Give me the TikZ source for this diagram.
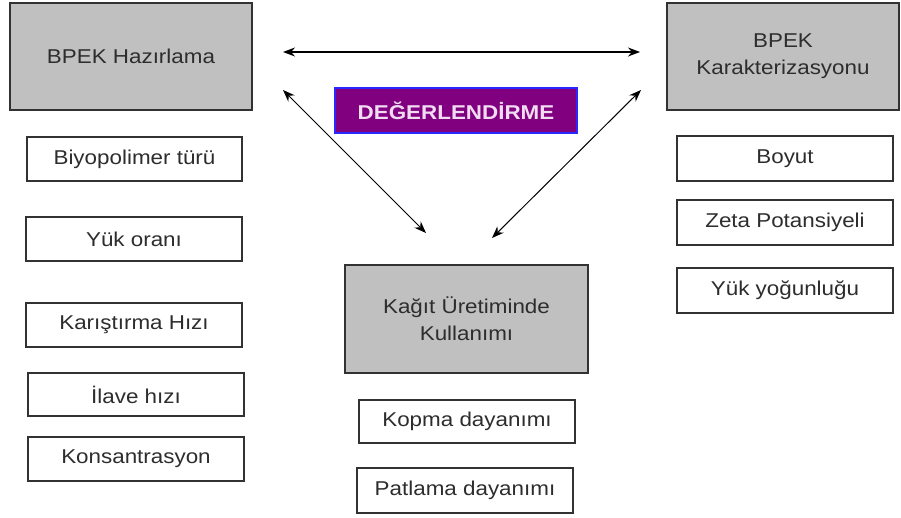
\documentclass[tikz,border=0pt]{standalone}
\usepackage{fontspec}
\setmainfont{Liberation Sans}[FakeStretch=1.12]
\usetikzlibrary{arrows.meta}
\definecolor{boxgray}{RGB}{192,192,192}
\definecolor{edgegray}{RGB}{50,50,50}
\definecolor{txtgray}{RGB}{45,45,45}
\definecolor{evalpurple}{RGB}{128,0,128}
\definecolor{evalblue}{RGB}{40,40,255}
\definecolor{evaltext}{RGB}{242,220,242}
\tikzset{
  mainbox/.style={draw=edgegray, line width=1.4pt, fill=boxgray, inner sep=0pt,
    align=center, text=txtgray, font=\fontsize{20}{27}\selectfont},
  itembox/.style={draw=edgegray, line width=1.3pt, fill=white, inner sep=0pt,
    align=center, text=txtgray, font=\fontsize{20}{26}\selectfont,
    minimum height=44pt},
  evalbox/.style={draw=evalblue, line width=1.3pt, fill=evalpurple, inner sep=0pt,
    text=evaltext, font=\fontsize{20}{24}\selectfont\bfseries},
  link/.style={{Stealth[length=12pt,width=9pt]}-{Stealth[length=12pt,width=9pt]}, black},
}
\begin{document}
\begin{tikzpicture}[x=1pt,y=-1pt]
\useasboundingbox (0,0) rectangle (901,517);
% main boxes
\node[mainbox, minimum width=242pt, minimum height=107pt] (prep) at (131,56.5) {BPEK Hazırlama};
\node[mainbox, minimum width=232pt, minimum height=107pt] (char) at (783,56.5) {BPEK\\Karakterizasyonu};
\node[mainbox, minimum width=243pt, minimum height=108pt] (use) at (466.5,319) {Kağıt Üretiminde\\Kullanımı};
\node[evalbox, minimum width=242pt, minimum height=45pt] (eval) at (456,110.5) {DEĞERLENDİRME};
% left items
\node[itembox, minimum width=215pt] (b1) at (134.5,159) {Biyopolimer türü};
\node[itembox, minimum width=216pt] (b2) at (134,239) {Yük oranı};
\node[itembox, minimum width=216pt] (b3) at (134,325) {Karıştırma Hızı};
\node[itembox, minimum width=216pt, minimum height=43pt] (b4) at (136,394.5) {İlave hızı};
\node[itembox, minimum width=216pt] (b5) at (136,459) {Konsantrasyon};
% right items
\node[itembox, minimum width=216pt, minimum height=45pt] (r1) at (785,158.5) {Boyut};
\node[itembox, minimum width=216pt, minimum height=45pt] (r2) at (785,222.5) {Zeta Potansiyeli};
\node[itembox, minimum width=216pt, minimum height=45pt] (r3) at (785,290.5) {Yük yoğunluğu};
% centre items
\node[itembox, minimum width=216pt, minimum height=43pt] (c1) at (467,421.5) {Kopma dayanımı};
\node[itembox, minimum width=216pt, minimum height=45pt] (c2) at (465,490.5) {Patlama dayanımı};
% arrow ends
\coordinate (hL) at (283,52);
\coordinate (hR) at (640,52);
\coordinate (dL1) at (283,90);
\coordinate (dL2) at (426,233);
\coordinate (dR1) at (641,90);
\coordinate (dR2) at (492,238);
\draw[link, line width=1.4pt] (hL) -- (hR);
\draw[link, line width=1pt] (dL1) -- (dL2);
\draw[link, line width=1pt] (dR1) -- (dR2);
\end{tikzpicture}
\end{document}
